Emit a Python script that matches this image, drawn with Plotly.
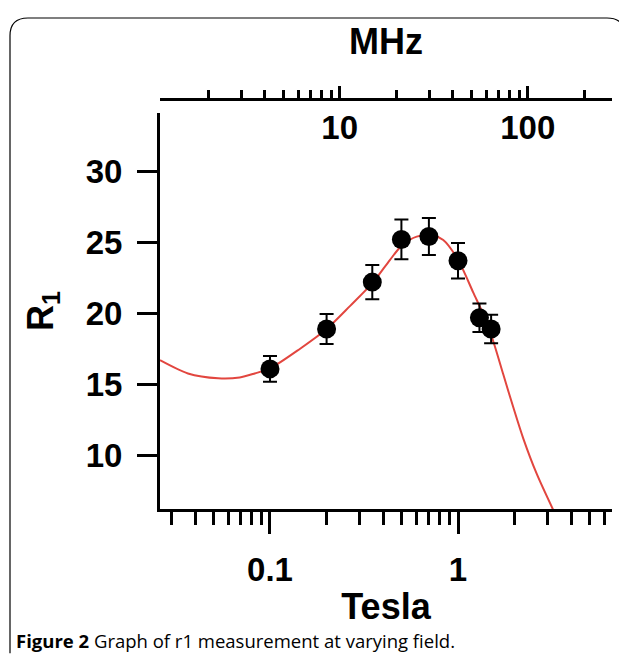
import plotly.graph_objects as go
import math

# ---- data ----
tesla = [0.1, 0.2, 0.35, 0.5, 0.7, 1.0, 1.3, 1.5]
r1 = [16.1, 18.9, 22.2, 25.2, 25.4, 23.7, 19.7, 18.9]
r1_err = [0.9, 1.05, 1.2, 1.4, 1.3, 1.25, 1.0, 1.0]

fit_tesla = [0.026, 0.0366, 0.053, 0.069, 0.083, 0.1, 0.144, 0.2, 0.267, 0.354,
             0.435, 0.505, 0.603, 0.73, 0.835, 1.0, 1.206, 1.42, 1.574, 1.742,
             1.968, 2.225, 2.62, 3.21]
fit_r1 = [16.71, 15.78, 15.44, 15.5, 15.78, 16.13, 17.5, 18.9, 20.53, 22.2,
          23.77, 24.8, 25.4, 25.5, 25.16, 23.77, 21.46, 19.4, 17.64, 15.7,
          13.4, 11.2, 8.73, 6.18]

tesla_major = [0.1, 1]
tesla_major_text = ["0.1", "1"]
tesla_minor = [0.03, 0.04, 0.05, 0.06, 0.07, 0.08, 0.09,
               0.2, 0.3, 0.4, 0.5, 0.6, 0.7, 0.8, 0.9,
               2, 3, 4, 5, 6]
mhz_major = [10, 100]
mhz_major_text = ["10", "100"]
mhz_minor = [2, 3, 4, 5, 6, 7, 8, 9, 20, 30, 40, 50, 60, 70, 80, 90, 200]
r1_ticks = [10, 15, 20, 25, 30]

MHZ_PER_TESLA = 42.58  # proton Larmor frequency

tesla_range_log = [-1.585, 0.819]
mhz_range_log = [v + math.log10(MHZ_PER_TESLA) for v in tesla_range_log]
r1_range = [6.25, 34.1]

FONT = "Liberation Sans, Arial, Helvetica, sans-serif"
RED = "#e2463f"

fig = go.Figure()

fig.add_trace(go.Scatter(
    x=fit_tesla, y=fit_r1, mode="lines",
    line=dict(color=RED, width=2, shape="spline", smoothing=0.8),
    hoverinfo="skip", showlegend=False,
))

fig.add_trace(go.Scatter(
    x=tesla, y=r1, mode="markers",
    marker=dict(color="black", size=19),
    error_y=dict(type="data", array=r1_err, visible=True,
                 color="black", thickness=2, width=7),
    showlegend=False,
))

# invisible trace to attach the MHz axis
fig.add_trace(go.Scatter(
    x=[t * MHZ_PER_TESLA for t in tesla], y=r1, xaxis="x2", mode="markers",
    marker=dict(opacity=0), hoverinfo="skip", showlegend=False,
))

# page body adds an 8px margin; work in screen coordinates
OFF = 8
W, H = 619, 657
L, T = 160 - OFF, 94 - OFF
R = W - (612 - OFF)
B = H - (509 - OFF)
PW, PH = W - L - R, H - T - B


def px(sx):
    return (sx - OFF - L) / PW


def py(sy):
    return (H - B - (sy - OFF)) / PH


tick_font = dict(family=FONT, size=33, color="black", weight="bold")
title_font = dict(family=FONT, size=36, color="black", weight="bold")

fig.update_layout(
    width=W, height=H,
    margin=dict(l=L, r=R, t=T, b=B),
    paper_bgcolor="white", plot_bgcolor="white",
    xaxis=dict(
        type="log", range=tesla_range_log,
        showline=True, linewidth=3, linecolor="black",
        ticks="outside", ticklen=22, tickwidth=3, tickcolor="black",
        tickmode="array", tickvals=tesla_major, ticktext=tesla_major_text,
        tickfont=tick_font, ticklabelstandoff=7,
        minor=dict(ticks="outside", ticklen=13, tickwidth=3, tickcolor="black",
                   tickmode="array", tickvals=tesla_minor, showgrid=False),
        showgrid=False, zeroline=False,
        title=dict(text="Tesla", font=title_font, standoff=8),
    ),
    xaxis2=dict(
        type="log", range=mhz_range_log, overlaying="x", side="top",
        anchor="free", position=1,
        showline=True, linewidth=3, linecolor="black",
        ticks="outside", ticklen=12, tickwidth=3, tickcolor="black",
        tickmode="array", tickvals=mhz_major, ticktext=mhz_major_text,
        tickfont=tick_font, ticklabelposition="inside", ticklabelstandoff=19,
        minor=dict(ticks="outside", ticklen=8, tickwidth=3, tickcolor="black",
                   tickmode="array", tickvals=mhz_minor, showgrid=False),
        showgrid=False, zeroline=False,
        title=dict(text="MHz", font=title_font, standoff=42),
    ),
    yaxis=dict(
        range=r1_range, domain=[0, py(108)],
        showline=True, linewidth=3, linecolor="black",
        ticks="outside", ticklen=20, tickwidth=3, tickcolor="black",
        tickmode="array", tickvals=r1_ticks,
        tickfont=tick_font, ticklabelstandoff=8,
        showgrid=False, zeroline=False,
        title=dict(text="R<sub>1</sub>", font=title_font, standoff=22),
    ),
)

frame_path = (
    f"M {px(10)},{py(655)} L {px(10)},{py(30)} "
    f"Q {px(10)},{py(12)} {px(28)},{py(12)} "
    f"L {px(607)},{py(12)} Q {px(625)},{py(12)} {px(625)},{py(30)} "
    f"L {px(625)},{py(680)}"
)
fig.add_shape(type="path", path=frame_path, xref="paper", yref="paper",
              line=dict(color="black", width=1.2), layer="above")

fig.add_annotation(
    x=px(14), y=py(642), xref="paper", yref="paper",
    xanchor="left", yanchor="middle", showarrow=False,
    text="<b>Figure 2</b> Graph of r1 measurement at varying field.",
    font=dict(family="Open Sans, sans-serif", size=18.5, color="black"),
)

fig.write_html("out.html")
